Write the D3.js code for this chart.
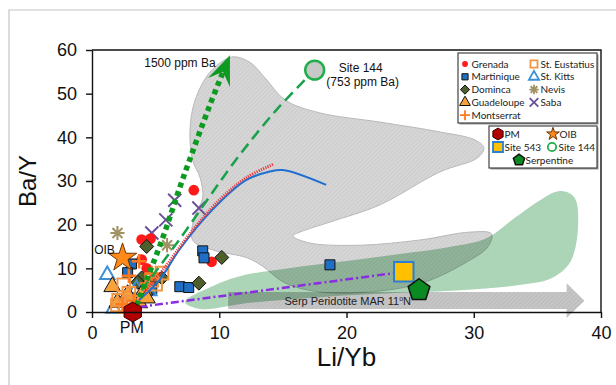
<!DOCTYPE html>
<html>
<head>
<meta charset="utf-8">
<script src="https://cdn.jsdelivr.net/npm/d3@7"></script>
<style>
  body { margin: 0; background: #fff; }
  svg { display: block; font-family: "Liberation Sans", Arial, sans-serif; }
</style>
</head>
<body>
<div id="chart"></div>
<script>
/* DATA (Li/Yb, Ba/Y) */
const grenada    = [[8.0,27.9],[3.9,16.6],[4.6,16.8],[3.9,12.0],[9.4,11.5],[4.3,10.0],[4.8,7.5]];
const martinique = [[18.7,10.8],[8.7,14.0],[8.8,12.4],[6.9,5.8],[7.6,5.6],[3.1,11.0],[4.7,5.2],[2.8,9.0]];
const dominica   = [[4.3,15.0],[10.2,12.5],[8.4,6.6],[3.9,7.8],[5.0,7.5],[5.5,7.8],[3.6,6.8]];
const guadeloupe = [[1.6,5.8],[4.1,5.0],[2.0,2.2],[3.7,2.1],[4.3,3.2],[2.8,4.0]];
const montserrat = [[3.7,11.6],[2.9,8.3],[4.7,8.8],[4.3,6.5],[3.3,2.5],[2.4,1.8]];
const stEustatius= [[5.5,8.9],[4.7,7.3],[2.5,6.2],[2.1,2.7],[3.2,2.2],[2.9,4.3],[2.0,1.6],[2.6,1.2],[5.0,6.4]];
const stKitts    = [[1.2,8.5],[3.5,5.3],[4.5,4.8],[1.7,0.8],[2.9,1.0]];
const nevis      = [[2.0,18.1],[5.9,15.3]];
const saba       = [[4.7,18.1],[5.8,21.1],[6.5,25.6],[8.4,23.8]];

const pm         = [[3.2,0.0]];
const oib        = [[2.4,12.4]];
const site543    = [[24.5,9.2]];
const site144    = [[17.5,55.4]];
const serpentine = [[25.7,5.0]];

// mixing / trend lines
const ba1500Line   = [[3.5,1.5],[5.5,16.5],[7.1,30.2],[9.2,46.9],[10.3,55.0]];
const ba1500Head   = [[10.84,58.8],[9.12,53.6],[10.29,55.0],[10.84,51.5]];
const site144Line  = [[3.9,5.0],[6.85,16.5],[11.3,34.8],[14.5,46.3],[17.5,55.4]];
const blueCurve    = [[3.7,2.75],[5.3,7.3],[6.85,14.2],[9.45,23.4],[12.1,30.2],[13.9,32.1],[15.0,32.5],[18.4,29.1]];
const redCurve     = [[4.1,4.6],[5.7,10.1],[7.6,17.6],[10.0,25.6],[12.1,30.7],[14.3,33.9]];
const site543Line  = [[3.7,1.15],[24.5,9.2]];

// fields
const grayField = [[11.0,58.4],[12.4,57.2],[13.6,53.6],[15.2,48.5],[17.9,45.6],[22.6,43.5],[27.4,41.2],[30.1,39.4],
  [30.8,37.6],[30.3,35.3],[27.35,32.1],[22.6,24.5],[18.7,20.6],[16.35,18.3],[15.8,17.4],[17.1,15.8],[21.1,15.3],
  [25.8,16.5],[29.7,18.3],[31.4,17.9],[31.1,14.9],[29.3,11.2],[26.2,6.9],[22.6,4.8],[17.9,4.6],[15.2,6.6],
  [13.4,10.5],[12.2,12.4],[9.5,14.2],[7.9,16.5],[8.1,22.2],[8.7,26.1],[8.5,30.7],[7.9,34.8],[7.7,41.7],[8.1,48.5],[9.3,55.0]];
const greenField = [[7.3,2.3],[9.7,6.2],[11.6,8.2],[15.6,10.1],[19.5,11.5],[24.2,13.3],[28.1,14.9],[31.0,16.9],
  [33.2,21.5],[35.2,25.6],[36.8,27.7],[37.9,26.3],[38.2,19.9],[37.6,11.5],[36.15,7.8],[33.6,6.2],[28.9,5.0],
  [24.2,4.4],[17.9,3.4],[12.4,2.1],[8.5,0.7]];
const serpArrow = [[10.7,4.6],[37.3,4.6],[37.3,6.6],[38.7,2.6],[37.3,-1.4],[37.3,0.7],[10.7,0.7]];

const xTicks = [0,10,20,30,40];
const yTicks = [0,10,20,30,40,50,60];

/* SETUP */
const width = 616, height = 385;
const margin = { top: 50, right: 15, bottom: 73, left: 92 };

const svg = d3.select("#chart").append("svg")
  .attr("width", width)
  .attr("height", height);

const x = d3.scaleLinear().domain([0, 40]).range([margin.left, width - margin.right]);
const y = d3.scaleLinear().domain([0, 60]).range([height - margin.bottom, margin.top]);

// outer frame of the figure
svg.append("path")
  .attr("d", `M9,${height} L9,10 L${width},10`)
  .attr("fill", "none").attr("stroke", "#c4c4c4").attr("stroke-width", 1.2);

const defs = svg.append("defs");
function hatch(id, bg, fg) {
  const p = defs.append("pattern").attr("id", id)
    .attr("patternUnits", "userSpaceOnUse").attr("width", 3).attr("height", 3)
    .attr("patternTransform", "rotate(45)");
  p.append("rect").attr("width", 3).attr("height", 3).attr("fill", bg);
  p.append("line").attr("x1", 0).attr("y1", 0).attr("x2", 0).attr("y2", 3)
    .attr("stroke", fg).attr("stroke-width", 1);
}
hatch("hatchLight", "#d6d6d6", "#c2c2c2");
hatch("hatchArrow", "#c6c6c6", "#b0b0b0");

const closedCurve = d3.line().x(d => x(d[0])).y(d => y(d[1])).curve(d3.curveCatmullRomClosed.alpha(0.5));
const openCurve = d3.line().x(d => x(d[0])).y(d => y(d[1])).curve(d3.curveCatmullRom.alpha(0.5));
const straight = d3.line().x(d => x(d[0])).y(d => y(d[1]));

/* FIELDS */
const fields = svg.append("g").style("isolation", "isolate");

fields.append("path").attr("d", closedCurve(grayField))
  .attr("fill", "url(#hatchLight)").attr("stroke", "#b8b8b8").attr("stroke-width", 1);

fields.append("path").attr("d", closedCurve(greenField))
  .attr("fill", "#acd5b7")
  .style("mix-blend-mode", "multiply");

fields.append("path").attr("d", straight(serpArrow) + "Z")
  .attr("fill", "url(#hatchArrow)")
  .style("mix-blend-mode", "multiply");

svg.append("text")
  .attr("x", x(20.1)).attr("y", y(2.6) + 4)
  .attr("text-anchor", "middle").attr("font-size", 11).attr("fill", "#222")
  .text("Serp Peridotite MAR 11")
  .append("tspan").attr("dy", -4).attr("font-size", 7).text("o")
  .select(function () { return this.parentNode; })
  .append("tspan").attr("dy", 4).attr("font-size", 11).text("N");

/* SYMBOL TYPES */
const plusType = { draw(c, s) { const r = Math.sqrt(s) / 2; c.moveTo(-r, 0); c.lineTo(r, 0); c.moveTo(0, -r); c.lineTo(0, r); } };
const timesType = { draw(c, s) { const r = Math.sqrt(s) / 2; c.moveTo(-r, -r); c.lineTo(r, r); c.moveTo(-r, r); c.lineTo(r, -r); } };
const asteriskType = { draw(c, s) {
  const r = Math.sqrt(s) / 2;
  for (let i = 0; i < 4; i++) {
    const a = i * Math.PI / 4;
    c.moveTo(-r * Math.cos(a), -r * Math.sin(a)); c.lineTo(r * Math.cos(a), r * Math.sin(a));
  }
} };
const diamondType = { draw(c, s) { const r = Math.sqrt(s) / 2; c.moveTo(0, -r); c.lineTo(r, 0); c.lineTo(0, r); c.lineTo(-r, 0); c.closePath(); } };
function polyType(n) {
  return { draw(c, s) {
    const r = Math.sqrt(s) / 2;
    for (let i = 0; i < n; i++) {
      const a = -Math.PI / 2 + i * 2 * Math.PI / n;
      if (i === 0) c.moveTo(r * Math.cos(a), r * Math.sin(a)); else c.lineTo(r * Math.cos(a), r * Math.sin(a));
    }
    c.closePath();
  } };
}

const styles = {
  "Grenada":      { type: d3.symbolCircle, size: 90,  fill: "#ff1a1a", stroke: "none",    sw: 0,   lsize: 26 },
  "Martinique":   { type: d3.symbolSquare, size: 100, fill: "#1f6fc4", stroke: "#111",    sw: 1,   lsize: 38 },
  "Dominca":      { type: diamondType,     size: 196, fill: "#4d5f2b", stroke: "#111",    sw: 1,   lsize: 85 },
  "Guadeloupe":   { type: d3.symbolTriangle, size: 125, fill: "#f7a23a", stroke: "#111",  sw: 1,   lsize: 50 },
  "Montserrat":   { type: plusType,        size: 210, fill: "none",    stroke: "#ff7a1f", sw: 2.5, lsize: 100 },
  "St. Eustatius":{ type: d3.symbolSquare, size: 160, fill: "none",    stroke: "#f29441", sw: 2,   lsize: 50 },
  "St. Kitts":    { type: d3.symbolTriangle, size: 90, fill: "none",   stroke: "#3d8fd6", sw: 2,   lsize: 45 },
  "Nevis":        { type: asteriskType,    size: 200, fill: "none",    stroke: "#a09264", sw: 2,   lsize: 90 },
  "Saba":         { type: timesType,       size: 170, fill: "none",    stroke: "#6b4f9c", sw: 2,   lsize: 75 },
  "PM":           { type: polyType(6),     size: 400, fill: "#b00000", stroke: "#3a0000", sw: 1,   lsize: 140 },
  "OIB":          { type: d3.symbolStar,   size: 250, fill: "#ff8a1a", stroke: "#6a3500", sw: 1,   lsize: 50 },
  "Site 543":     { type: d3.symbolSquare, size: 380, fill: "#ffc000", stroke: "#2a7fd4", sw: 2,   lsize: 100 },
  "Site 144":     { type: d3.symbolCircle, size: 280, fill: "#c8c8c8", stroke: "#1fae4a", sw: 2.5, lsize: 55 },
  "Serpentine":   { type: polyType(5),     size: 520, fill: "#0c8a22", stroke: "#111",    sw: 1.5, lsize: 140 }
};

function drawPoints(name, data) {
  const st = styles[name];
  svg.append("g").attr("class", "series")
    .selectAll("path")
    .data(data)
    .join("path")
    .attr("transform", d => `translate(${x(d[0])},${y(d[1])})`)
    .attr("d", d3.symbol().type(st.type).size(st.size))
    .attr("fill", st.fill)
    .attr("stroke", st.stroke)
    .attr("stroke-width", st.sw);
}

/* ISLAND DATA */
drawPoints("Nevis", nevis);
drawPoints("Saba", saba);
drawPoints("Grenada", grenada);
drawPoints("Martinique", martinique);
drawPoints("Dominca", dominica);
drawPoints("St. Kitts", stKitts);
drawPoints("Guadeloupe", guadeloupe);
drawPoints("St. Eustatius", stEustatius);
drawPoints("Montserrat", montserrat);

/* LINES */
svg.append("path").attr("d", straight(site543Line))
  .attr("fill", "none").attr("stroke", "#8b2be2").attr("stroke-width", 2.5)
  .attr("stroke-dasharray", "8,3,2,3");

svg.append("path").attr("d", openCurve(blueCurve))
  .attr("fill", "none").attr("stroke", "#1f6fd0").attr("stroke-width", 2);

svg.append("path").attr("d", openCurve(redCurve))
  .attr("fill", "none").attr("stroke", "#e8383d").attr("stroke-width", 3)
  .attr("stroke-dasharray", "1.2,1.2");

svg.append("path").attr("d", openCurve(site144Line))
  .attr("fill", "none").attr("stroke", "#19a04b").attr("stroke-width", 2.5)
  .attr("stroke-dasharray", "11,6");

svg.append("path").attr("d", openCurve(ba1500Line))
  .attr("fill", "none").attr("stroke", "#0d9a20").attr("stroke-width", 5.5)
  .attr("stroke-dasharray", "5,4");

svg.append("path").attr("d", straight(ba1500Head) + "Z")
  .attr("fill", "#0d9a20");

/* END MEMBERS */
drawPoints("OIB", oib);
drawPoints("PM", pm);
drawPoints("Site 543", site543);
drawPoints("Serpentine", serpentine);
drawPoints("Site 144", site144);

/* ANNOTATIONS */
svg.append("text").attr("x", x(pm[0][0]) - 1).attr("y", y(pm[0][1]) + 21)
  .attr("text-anchor", "middle").attr("font-size", 16).attr("fill", "#111").text("PM");
svg.append("text").attr("x", x(oib[0][0]) - 18).attr("y", y(oib[0][1]) - 4)
  .attr("text-anchor", "middle").attr("font-size", 12).attr("fill", "#111").text("OIB");
svg.append("text").attr("x", x(ba1500Head[0][0]) - 50).attr("y", y(ba1500Head[0][1]) + 12)
  .attr("text-anchor", "middle").attr("font-size", 12).attr("fill", "#111").text("1500 ppm Ba");
svg.append("text").attr("x", x(site144[0][0]) + 46).attr("y", y(site144[0][1]) + 2)
  .attr("text-anchor", "middle").attr("font-size", 12).attr("fill", "#111").text("Site 144");
svg.append("text").attr("x", x(site144[0][0]) + 48).attr("y", y(site144[0][1]) + 16)
  .attr("text-anchor", "middle").attr("font-size", 12).attr("fill", "#111").text("(753 ppm Ba)");

/* AXES */
const yAxis = d3.axisLeft(y).tickValues(yTicks).tickSize(6).tickSizeOuter(0).tickPadding(9);
const xAxis = d3.axisBottom(x).tickValues(xTicks).tickSize(6).tickSizeOuter(0).tickPadding(8);

const yAxisGroup = svg.append("g")
  .attr("transform", `translate(${margin.left},0)`)
  .call(yAxis);
const xAxisGroup = svg.append("g")
  .attr("transform", `translate(0,${height - margin.bottom})`)
  .call(xAxis);

[yAxisGroup, xAxisGroup].forEach(g => {
  g.selectAll("text").attr("font-size", 18).attr("font-family", "Liberation Sans, Arial, sans-serif").attr("fill", "#111");
  g.selectAll("line, path").attr("stroke", "#111").attr("stroke-width", 1.4);
});

// top and right frame
svg.append("path")
  .attr("d", `M${margin.left},${margin.top} L${width - margin.right},${margin.top} L${width - margin.right},${height - margin.bottom}`)
  .attr("fill", "none").attr("stroke", "#111").attr("stroke-width", 1.4);

svg.append("text")
  .attr("transform", `translate(36,${(margin.top + height - margin.bottom) / 2}) rotate(-90)`)
  .attr("text-anchor", "middle").attr("font-size", 24).attr("fill", "#111").text("Ba/Y");
svg.append("text")
  .attr("x", (margin.left + width - margin.right) / 2).attr("y", 366)
  .attr("text-anchor", "middle").attr("font-size", 26).attr("fill", "#111").text("Li/Yb");

/* LEGENDS */
const legend1Items = [
  { name: "Grenada", col: 0, row: 0 }, { name: "Martinique", col: 0, row: 1 },
  { name: "Dominca", col: 0, row: 2 }, { name: "Guadeloupe", col: 0, row: 3 },
  { name: "Montserrat", col: 0, row: 4 }, { name: "St. Eustatius", col: 1, row: 0 },
  { name: "St. Kitts", col: 1, row: 1 }, { name: "Nevis", col: 1, row: 2 },
  { name: "Saba", col: 1, row: 3 }
];
const legend2Items = [
  { name: "PM", sx: 498, row: 0 }, { name: "OIB", sx: 553, row: 0 },
  { name: "Site 543", sx: 498, row: 1 }, { name: "Site 144", sx: 552, row: 1 },
  { name: "Serpentine", sx: 519, row: 2 }
];

function legendBox(x0, y0, w, h) {
  svg.append("rect").attr("x", x0 + 1.5).attr("y", y0 + 1.5).attr("width", w).attr("height", h).attr("fill", "#999");
  svg.append("rect").attr("x", x0).attr("y", y0).attr("width", w).attr("height", h)
    .attr("fill", "#fff").attr("stroke", "#444").attr("stroke-width", 1.2);
}
function legendEntry(name, sx, sy) {
  const st = styles[name];
  svg.append("path").attr("transform", `translate(${sx},${sy})`)
    .attr("d", d3.symbol().type(st.type).size(st.lsize))
    .attr("fill", name === "Site 144" ? "#fff" : st.fill)
    .attr("stroke", st.stroke).attr("stroke-width", Math.min(st.sw, 1.8));
  svg.append("text").attr("x", sx + 6.5).attr("y", sy + 3.6)
    .attr("font-family", "Lato, 'Open Sans', sans-serif").attr("font-size", 10).attr("fill", "#222")
    .text(name);
}

legendBox(458, 53, 139, 70);
legend1Items.forEach(d => legendEntry(d.name, d.col === 0 ? 465 : 534, 64 + d.row * 12.8));

legendBox(489, 126, 108, 42);
legend2Items.forEach(d => legendEntry(d.name, d.sx, 134 + d.row * 13));
</script>
</body>
</html>
